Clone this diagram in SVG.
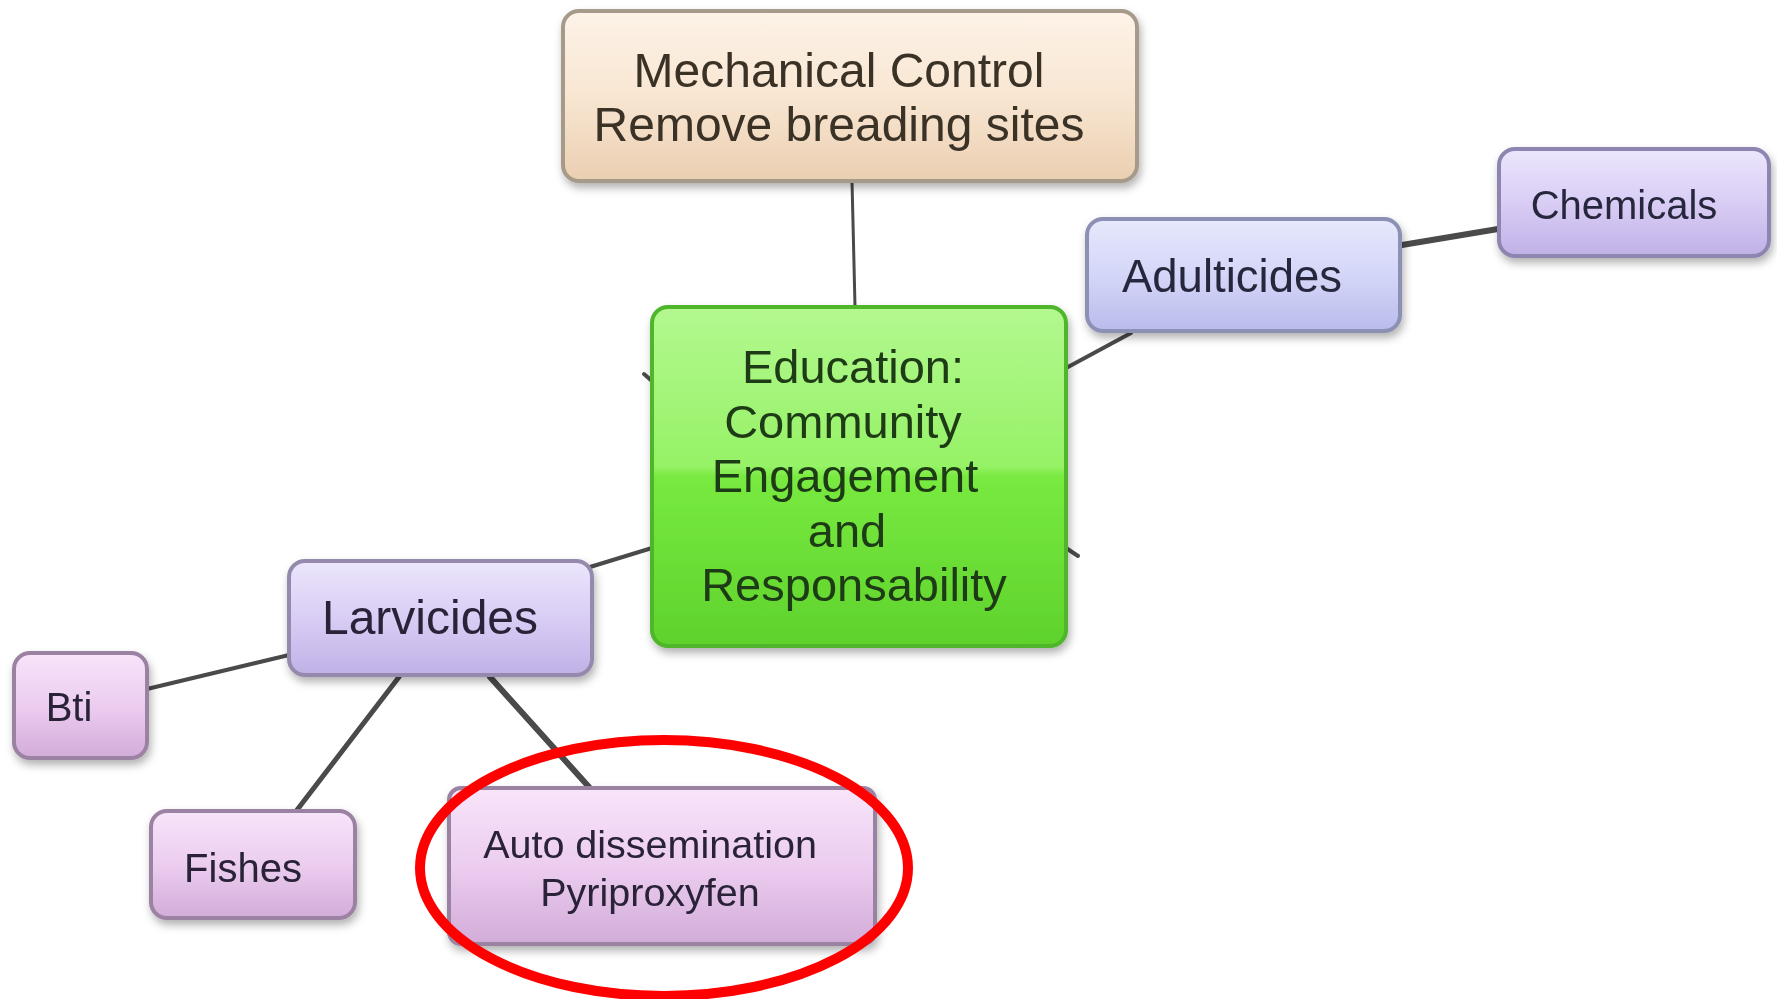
<svg xmlns="http://www.w3.org/2000/svg" width="1777" height="999" viewBox="0 0 1777 999">
<defs>
<filter id="sh" x="-10%" y="-10%" width="130%" height="140%">
<feDropShadow dx="2" dy="5" stdDeviation="4" flood-color="#000" flood-opacity="0.3"/>
</filter>
<linearGradient id="gTan" x1="0" y1="0" x2="0" y2="1">
<stop offset="0" stop-color="#fdf3e8"/><stop offset="0.5" stop-color="#f8e6d2"/><stop offset="1" stop-color="#ebcfb1"/>
</linearGradient>
<linearGradient id="gGreen" x1="0" y1="0" x2="0" y2="1">
<stop offset="0" stop-color="#b3f890"/><stop offset="0.47" stop-color="#96f266"/><stop offset="0.5" stop-color="#78ea40"/><stop offset="1" stop-color="#5fd22c"/>
</linearGradient>
<linearGradient id="gBlue" x1="0" y1="0" x2="0" y2="1">
<stop offset="0" stop-color="#e6e8fc"/><stop offset="0.5" stop-color="#d4d6f8"/><stop offset="1" stop-color="#b9bbec"/>
</linearGradient>
<linearGradient id="gLav" x1="0" y1="0" x2="0" y2="1">
<stop offset="0" stop-color="#ece6fc"/><stop offset="0.5" stop-color="#d9cdf5"/><stop offset="1" stop-color="#c0b1e6"/>
</linearGradient>
<linearGradient id="gPink" x1="0" y1="0" x2="0" y2="1">
<stop offset="0" stop-color="#f8e4fa"/><stop offset="0.5" stop-color="#eccdf0"/><stop offset="1" stop-color="#d2acd8"/>
</linearGradient>
</defs>
<style>
.t{font-family:"Liberation Sans",Arial,sans-serif;text-anchor:middle}
.c{stroke:#4a4a4a;stroke-linecap:round;fill:none}
.n{filter:url(#sh)}
</style>
<rect width="1777" height="999" fill="#ffffff"/>
<g id="connectors">
<line class="c" x1="852" y1="181" x2="855" y2="306" stroke-width="3"/>
<line class="c" x1="1068" y1="367" x2="1131" y2="333" stroke-width="4"/>
<line class="c" x1="1402" y1="245" x2="1498" y2="229" stroke-width="6"/>
<line class="c" x1="652" y1="548" x2="590" y2="567" stroke-width="4"/>
<line class="c" x1="289" y1="655" x2="147" y2="689" stroke-width="4"/>
<line class="c" x1="399" y1="677" x2="297" y2="810" stroke-width="5"/>
<line class="c" x1="490" y1="677" x2="589" y2="787" stroke-width="6"/>
<line class="c" x1="644" y1="374" x2="652" y2="381" stroke-width="4"/>
<line class="c" x1="1066" y1="548" x2="1078" y2="556" stroke-width="4"/>
</g>
<g id="mechanical" class="n">
<rect x="563" y="11" width="574" height="170" rx="16" fill="url(#gTan)" stroke="#a69a8a" stroke-width="4"/>
<text class="t" x="839" y="87" font-size="48" fill="#3a3028">Mechanical Control</text>
<text class="t" x="839" y="141" font-size="48" fill="#3a3028">Remove breading sites</text>
</g>
<g id="education" class="n">
<rect x="652" y="307" width="414" height="339" rx="16" fill="url(#gGreen)" stroke="#4fb52a" stroke-width="4"/>
<g class="t" font-size="47" fill="#1e3a12">
<text x="853" y="383">Education:</text>
<text x="843" y="438">Community</text>
<text x="845" y="492">Engagement</text>
<text x="847" y="547">and</text>
<text x="854" y="601">Responsability</text>
</g>
</g>
<g id="adulticides" class="n">
<rect x="1087" y="219" width="313" height="112" rx="16" fill="url(#gBlue)" stroke="#8c90b4" stroke-width="4"/>
<text class="t" x="1232" y="292" font-size="45.5" fill="#28283e">Adulticides</text>
</g>
<g id="chemicals" class="n">
<rect x="1499" y="149" width="270" height="107" rx="16" fill="url(#gLav)" stroke="#8e86b0" stroke-width="4"/>
<text class="t" x="1624" y="219" font-size="40" fill="#28283e">Chemicals</text>
</g>
<g id="larvicides" class="n">
<rect x="289" y="561" width="303" height="114" rx="16" fill="url(#gLav)" stroke="#958aad" stroke-width="4"/>
<text class="t" x="430" y="634" font-size="48" fill="#2a2438">Larvicides</text>
</g>
<g id="bti" class="n">
<rect x="14" y="653" width="133" height="105" rx="16" fill="url(#gPink)" stroke="#9c82a2" stroke-width="4"/>
<text class="t" x="69" y="721" font-size="40" fill="#2a2438">Bti</text>
</g>
<g id="fishes" class="n">
<rect x="151" y="811" width="204" height="107" rx="16" fill="url(#gPink)" stroke="#9c82a2" stroke-width="4"/>
<text class="t" x="243" y="882" font-size="40" fill="#2a2438">Fishes</text>
</g>
<g id="auto" class="n">
<rect x="449" y="788" width="426" height="156" rx="12" fill="url(#gPink)" stroke="#9c82a2" stroke-width="4"/>
<text class="t" x="650" y="858" font-size="39.5" fill="#2a2438">Auto dissemination</text>
<text class="t" x="650" y="906" font-size="39.5" fill="#2a2438">Pyriproxyfen</text>
</g>
<ellipse id="highlight" cx="664" cy="868" rx="244" ry="128" fill="none" stroke="#ff0000" stroke-width="10"/>
</svg>
